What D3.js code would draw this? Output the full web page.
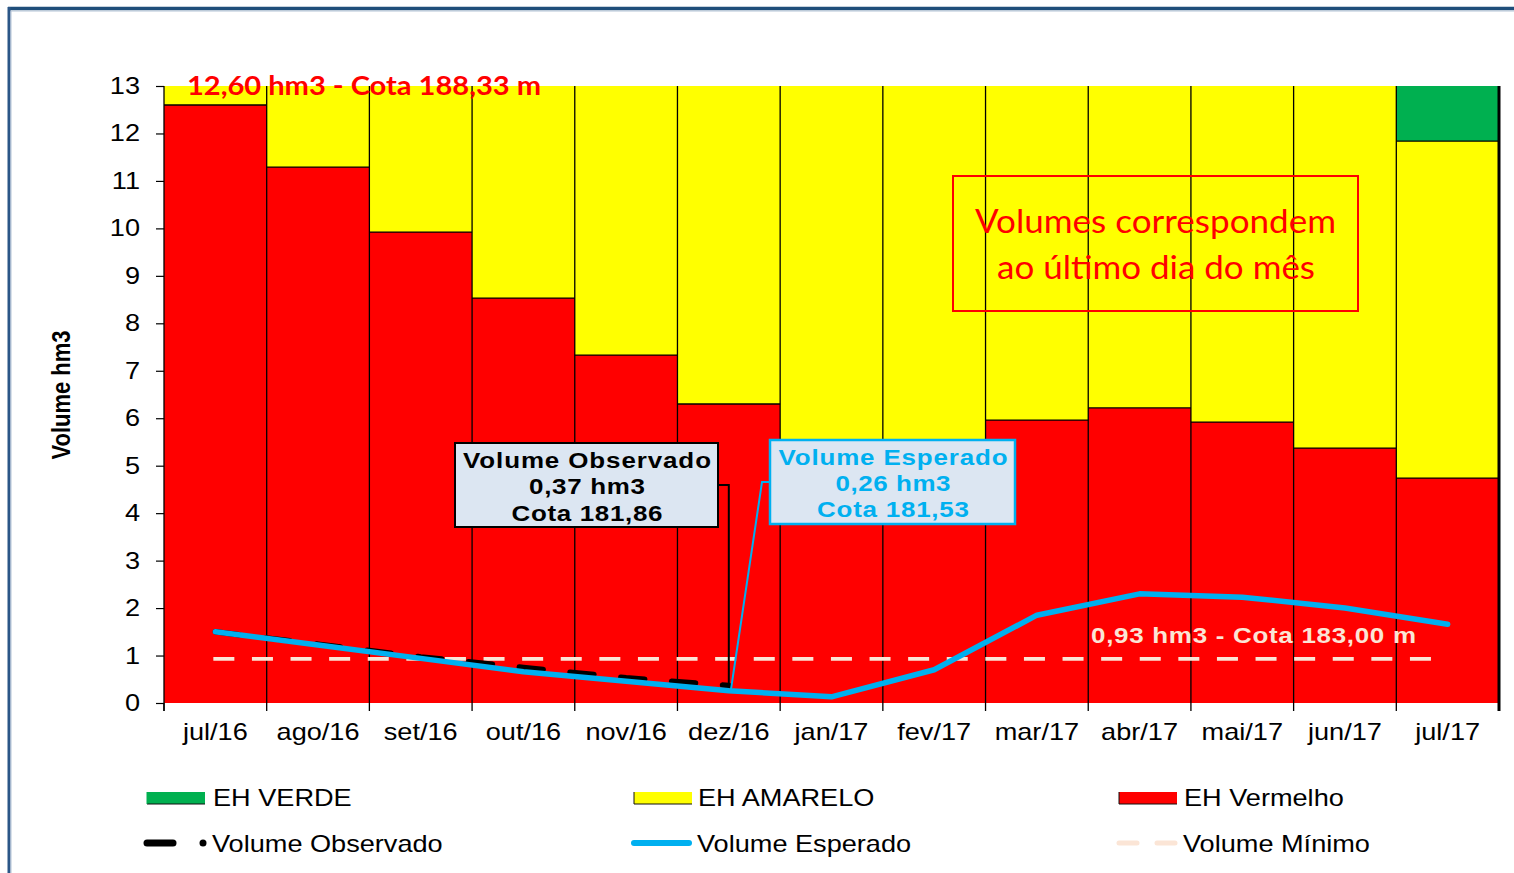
<!DOCTYPE html>
<html><head><meta charset="utf-8">
<script src="https://cdn.jsdelivr.net/npm/d3@7"></script>
<style>body{margin:0;background:#fff;overflow:hidden;} svg{display:block;}</style>
</head><body>
<svg id="c" width="1514" height="873"></svg>
<script>
// ---------- DATA ----------
const meses = ["jul/16","ago/16","set/16","out/16","nov/16","dez/16","jan/17","fev/17","mar/17","abr/17","mai/17","jun/17","jul/17"];
const ehVermelho = [12.60, 11.29, 9.92, 8.53, 7.33, 6.30, 5.30, 5.45, 5.96, 6.22, 5.92, 5.37, 4.74];
const ehAmarelo  = [0.40, 1.71, 3.08, 4.47, 5.67, 6.70, 7.70, 7.55, 7.04, 6.78, 7.08, 7.63, 7.10];
const ehVerde    = [0, 0, 0, 0, 0, 0, 0, 0, 0, 0, 0, 0, 1.16];
const volumeEsperado  = [1.50, 1.22, 0.94, 0.66, 0.46, 0.26, 0.13, 0.70, 1.85, 2.30, 2.23, 2.00, 1.66];
const volumeObservado = [1.50, 1.24, 0.97, 0.75, 0.53, 0.37];
const volumeMinimo = 0.93;
const yTickValues = [0,1,2,3,4,5,6,7,8,9,10,11,12,13];

// ---------- SETUP ----------
const svg = d3.select("#c");
const SX = 1.18;
const ARIAL = "Arial, 'Liberation Sans', sans-serif";
const CAL = "Lato, 'Open Sans', sans-serif";
const plot = {left:164, right:1499, top:86, bottom:703};
const x = d3.scaleBand().domain(meses).range([plot.left, plot.right]).padding(0);
const y = d3.scaleLinear().domain([0,13]).range([plot.bottom, plot.top]);
const xc = m => x(m) + x.bandwidth()/2;

function txt(parent, px, py, s, o={}) {
  const sx = o.sx ?? SX;
  const t = parent.append("text")
    .attr("transform", `translate(${px},${py}) scale(${sx},1)` + (o.rot ? ` rotate(${o.rot})` : ""))
    .attr("text-anchor", o.anchor || "start")
    .attr("font-family", o.font || ARIAL)
    .attr("font-size", o.size || 23)
    .attr("font-weight", o.weight || "normal")
    .attr("fill", o.fill || "#000")
    .text(s);
  if (o.len) t.attr("textLength", o.len / sx).attr("lengthAdjust", o.adjust || "spacing");
  return t;
}

// ---------- FRAME ----------
svg.append("rect").attr("width",1514).attr("height",873).attr("fill","#fff");
svg.append("line").attr("x1",8).attr("x2",1514).attr("y1",8.5).attr("y2",8.5).attr("stroke","#1F4E7A").attr("stroke-width",3.5);
svg.append("line").attr("x1",10).attr("x2",1514).attr("y1",11).attr("y2",11).attr("stroke","#B4C3D6").attr("stroke-width",1.2);
svg.append("line").attr("x1",9).attr("x2",9).attr("y1",7).attr("y2",873).attr("stroke","#2B5687").attr("stroke-width",3);
svg.append("line").attr("x1",11).attr("x2",11).attr("y1",11).attr("y2",873).attr("stroke","#B4C3D6").attr("stroke-width",1);

// ---------- BARS ----------
const rows = meses.map((m,i)=>({mes:m, vermelho:ehVermelho[i], amarelo:ehAmarelo[i], verde:ehVerde[i]}));
const series = d3.stack().keys(["vermelho","amarelo","verde"])(rows);
const cor = {vermelho:"#FF0000", amarelo:"#FFFF00", verde:"#00B050"};
svg.append("g").selectAll("g").data(series).join("g")
  .attr("fill", d => cor[d.key])
  .selectAll("rect").data(d => d).join("rect")
  .attr("shape-rendering","crispEdges")
  .attr("x", d => x(d.data.mes)).attr("width", x.bandwidth())
  .attr("y", d => y(d[1])).attr("height", d => Math.max(0, y(d[0]) - y(d[1])));

// boundaries between stacked segments
const bnd = svg.append("g").attr("stroke","#000").attr("stroke-width",1.3);
series.slice(0,2).forEach(s => {
  s.forEach(d => {
    if (d[1] < 13 - 1e-6) {
      bnd.append("line").attr("x1", x(d.data.mes)).attr("x2", x(d.data.mes)+x.bandwidth())
        .attr("y1", y(d[1])).attr("y2", y(d[1]));
    }
  });
});
// vertical separators and bottom ticks
meses.forEach((m,i) => {
  if (i > 0) bnd.append("line").attr("x1", x(m)).attr("x2", x(m)).attr("y1", y(13)).attr("y2", y(0)+8);
  else bnd.append("line").attr("x1", x(m)).attr("x2", x(m)).attr("y1", y(0)).attr("y2", y(0)+8);
});
svg.append("line").attr("x1",plot.right).attr("x2",plot.right).attr("y1",y(13)).attr("y2",y(0)+8).attr("stroke","#000").attr("stroke-width",3);

// ---------- Y AXIS ----------
const yAx = svg.append("g").attr("transform",`translate(${plot.left},0)`)
  .call(d3.axisLeft(y).tickValues(yTickValues).tickSize(8).tickSizeOuter(0).tickFormat(""));
yAx.select(".domain").remove();
yAx.selectAll("line").attr("stroke","#000").attr("stroke-width",1.2);
svg.append("line").attr("x1",plot.left).attr("x2",plot.left).attr("y1",y(13)).attr("y2",y(0)+8).attr("stroke","#000").attr("stroke-width",1.3);
yTickValues.forEach(v => txt(svg, 140, y(v)+8, String(v), {anchor:"end", size:23}));
txt(svg, 70, 395, "Volume hm3", {anchor:"middle", size:22, weight:"bold", rot:-90});

// ---------- X LABELS ----------
meses.forEach(m => txt(svg, xc(m), 740, m, {anchor:"middle", size:23}));

// ---------- LINES ----------
svg.append("line")
  .attr("x1", xc(meses[0])-2).attr("x2", xc(meses[meses.length-1]))
  .attr("y1", y(volumeMinimo)).attr("y2", y(volumeMinimo))
  .attr("stroke","#FBE5D6").attr("stroke-width",3.8).attr("stroke-dasharray","21,17.6");

const lineGen = d3.line().x((d,i) => xc(meses[i])).y(d => y(d));
svg.append("path").datum(volumeObservado).attr("d", lineGen)
  .attr("fill","none").attr("stroke","#000").attr("stroke-width",5.5)
  .attr("stroke-dasharray","24,27").attr("stroke-linecap","round").attr("stroke-linejoin","round");
svg.append("path").datum(volumeEsperado).attr("d", lineGen)
  .attr("fill","none").attr("stroke","#00B0F0").attr("stroke-width",5.5)
  .attr("stroke-linecap","round").attr("stroke-linejoin","round");

// ---------- ANNOTATIONS ----------
const iDez = 5;
svg.append("polyline")
  .attr("points", `718,485 ${xc(meses[iDez])},485 ${xc(meses[iDez])},${y(volumeObservado[iDez])+2}`)
  .attr("fill","none").attr("stroke","#000").attr("stroke-width",2);
svg.append("rect").attr("x",455).attr("y",443).attr("width",263).attr("height",84)
  .attr("fill","#DCE6F2").attr("stroke","#000").attr("stroke-width",2);
txt(svg, 587, 468, "Volume Observado", {anchor:"middle", size:22, weight:"bold", len:248});
txt(svg, 587, 494, "0,37 hm3", {anchor:"middle", size:22, weight:"bold", len:116});
txt(svg, 587, 521, "Cota 181,86", {anchor:"middle", size:22, weight:"bold", len:151});

svg.append("polyline")
  .attr("points", `770,482 762,482 ${xc(meses[iDez])+2},${y(volumeEsperado[iDez])}`)
  .attr("fill","none").attr("stroke","#00B0F0").attr("stroke-width",2);
svg.append("rect").attr("x",770).attr("y",440).attr("width",245).attr("height",84)
  .attr("fill","#DCE6F2").attr("stroke","#00B0F0").attr("stroke-width",2.5);
txt(svg, 893, 465, "Volume Esperado", {anchor:"middle", size:22, weight:"bold", len:229, fill:"#00B0F0"});
txt(svg, 893, 491, "0,26 hm3", {anchor:"middle", size:22, weight:"bold", len:115, fill:"#00B0F0"});
txt(svg, 893, 517, "Cota 181,53", {anchor:"middle", size:22, weight:"bold", len:152, fill:"#00B0F0"});

txt(svg, 1253.5, 643, "0,93 hm3 - Cota 183,00 m", {anchor:"middle", size:22, weight:"bold", len:325, fill:"#FBE5D6"});
txt(svg, 187, 95, "12,60 hm3 - Cota 188,33 m", {size:26, weight:"bold", font:CAL, fill:"#FF0000", len:354, sx:1, adjust:"spacingAndGlyphs"});

svg.append("rect").attr("x",953).attr("y",176).attr("width",405).attr("height",135)
  .attr("fill","none").attr("stroke","#FF0000").attr("stroke-width",2);
txt(svg, 1155.5, 233, "Volumes correspondem", {anchor:"middle", size:32, font:CAL, fill:"#FF0000", len:361, sx:1, adjust:"spacingAndGlyphs"});
txt(svg, 1156, 279, "ao último dia do mês", {anchor:"middle", size:32, font:CAL, fill:"#FF0000", len:318, sx:1, adjust:"spacingAndGlyphs"});

// ---------- LEGEND ----------
const lg = svg.append("g");
[[147,"#00B050","EH VERDE",213],[634,"#FFFF00","EH AMARELO",698],[1119,"#FF0000","EH Vermelho",1184]].forEach(([sx0,c,label,tx])=>{
  lg.append("rect").attr("x",sx0).attr("y",792).attr("width",58).attr("height",12).attr("fill",c);
  lg.append("line").attr("x1",sx0).attr("x2",sx0+58).attr("y1",804).attr("y2",804).attr("stroke","#111").attr("stroke-width",1.2);
  lg.append("line").attr("x1",sx0).attr("x2",sx0).attr("y1",792).attr("y2",804).attr("stroke", c==="#00B050" ? "#00B050" : "#111").attr("stroke-width",1);
  txt(lg, tx, 806, label, {size:23});
});
lg.append("line").attr("x1",147).attr("x2",173).attr("y1",843).attr("y2",843).attr("stroke","#000").attr("stroke-width",7).attr("stroke-linecap","round");
lg.append("circle").attr("cx",203).attr("cy",843).attr("r",3.5).attr("fill","#000");
txt(lg, 212, 852, "Volume Observado", {size:23});
lg.append("line").attr("x1",634).attr("x2",689).attr("y1",843).attr("y2",843).attr("stroke","#00B0F0").attr("stroke-width",6).attr("stroke-linecap","round");
txt(lg, 697, 852, "Volume Esperado", {size:23});
lg.append("line").attr("x1",1119).attr("x2",1137).attr("y1",843).attr("y2",843).attr("stroke","#FBE5D6").attr("stroke-width",5).attr("stroke-linecap","round");
lg.append("line").attr("x1",1157).attr("x2",1175).attr("y1",843).attr("y2",843).attr("stroke","#FBE5D6").attr("stroke-width",5).attr("stroke-linecap","round");
txt(lg, 1183, 852, "Volume Mínimo", {size:23});
</script>
</body></html>
